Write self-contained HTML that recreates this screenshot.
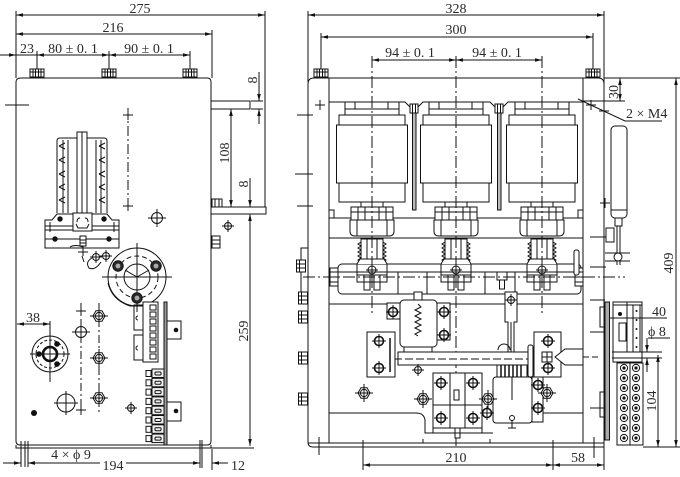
<!DOCTYPE html>
<html><head><meta charset="utf-8"><title>drawing</title>
<style>
html,body{margin:0;padding:0;background:#fff;width:680px;height:477px;overflow:hidden}
svg{display:block}
text{font-family:"Liberation Serif","DejaVu Serif",serif;font-size:14px;fill:#2a2a2a;stroke:none}
</style></head><body>
<svg width="680" height="477" viewBox="0 0 680 477" xmlns="http://www.w3.org/2000/svg" xmlns:xlink="http://www.w3.org/1999/xlink">
<defs>
<marker id="a" markerWidth="7" markerHeight="4" refX="7" refY="2" orient="auto-start-reverse" markerUnits="userSpaceOnUse"><path d="M0,0.2L7,2L0,3.8Z" fill="#111" stroke="none"/></marker>
<g id="hex"><polygon points="6,0 3,5.2 -3,5.2 -6,0 -3,-5.2 3,-5.2" fill="#fff"/><circle r="3.6"/><path d="M-9,0H9M0,-9V9"/></g>
<g id="cc"><circle r="5.5" fill="#fff"/><path d="M-9,0H9M0,-9V9"/></g>
<g id="cs"><circle r="3.5" fill="#fff"/><path d="M-6,0H6M0,-6V6"/></g>
<g id="bc"><circle r="4.5" fill="#fff" stroke-width="1.6"/><path d="M-7,0H7M0,-7V7"/></g>
<g id="bolt"><circle r="5.2" fill="#2a2a2a"/><circle r="2.4" fill="#aaa" stroke="none"/></g>
<g id="nut"><rect x="-7" y="-4" width="14" height="8" fill="#fff"/><path d="M-4,-4V4M-1.5,-4V4M1.5,-4V4M4,-4V4M-7,-1H7"/></g>
<g id="cr"><path d="M-5,0H5M0,-5V5"/></g>
<g id="sn"><rect x="-4.5" y="-6" width="9" height="12" fill="#fff"/><path d="M-4.5,-2H4.5M-4.5,2H4.5M-1.5,-6V6"/></g>
<g id="cyl">
<rect x="-27" y="102" width="54" height="7" fill="#fff"/>
<path d="M-17,102V109M16,102V109"/>
<rect x="-27" y="109" width="54" height="6" fill="#fff"/>
<rect x="-33" y="115" width="66" height="10" fill="#fff"/>
<rect x="-35.5" y="125" width="71" height="58" fill="#fff"/>
<rect x="-33" y="183" width="66" height="19" fill="#fff"/>
<rect x="-11" y="202" width="22" height="5" fill="#fff"/>
<rect x="-21" y="207" width="42" height="13" fill="#fff"/>
<path d="M-14,207V220M-7,207V220M7,207V220M14,207V220M-21,212H21"/>
<path d="M-22,220H22V231Q22,236 17,236H-17Q-22,236 -22,231Z" fill="#fff"/>
<path d="M-15,220V236M15,220V236"/>
<rect x="-11" y="239" width="22" height="21" fill="#fff"/>
<path d="M-5,239V260M5,239V260"/>
<path d="M-11,242l-3,2 3,2 -3,2 3,2 -3,2 3,2 -3,2 3,2 -3,2 3,2 M11,242l3,2 -3,2 3,2 -3,2 3,2 -3,2 3,2 -3,2 3,2 -3,2"/>
<path d="M-15,264L-12,259H12L15,264" fill="#fff"/>
<path d="M-15,264V282M15,264V282"/>
<circle cy="270" r="4"/><path d="M-6,270H6M0,264V276"/>
<path d="M-15,275H15V282H-15Z M-8,275V282M-2,275V282M2,275V282M8,275V282"/>
<path d="M-8,282V290H-2V282M2,282V290H8V282"/>
</g>
</defs>

<g fill="none" stroke="#111" stroke-width="1">

<!-- ================= LEFT VIEW ================= -->
<path d="M16,11V78 M265,11V207 M212,30V78"/>
<line x1="16" y1="15" x2="265" y2="15" marker-start="url(#a)" marker-end="url(#a)"/>
<line x1="16" y1="34" x2="212" y2="34" marker-start="url(#a)" marker-end="url(#a)"/>
<line x1="0" y1="55" x2="16" y2="55" marker-end="url(#a)"/>
<line x1="16" y1="55" x2="37" y2="55"/>
<line x1="37" y1="55" x2="109" y2="55" marker-start="url(#a)" marker-end="url(#a)"/>
<line x1="109" y1="55" x2="190" y2="55" marker-start="url(#a)" marker-end="url(#a)"/>
<path d="M37,51V78 M109,51V78 M190,51V78"/>
<use href="#nut" x="37" y="73"/>
<use href="#nut" x="109" y="73"/>
<use href="#nut" x="190" y="73"/>

<path d="M16,82Q16,78 21,78H207Q211,78 211,82V441Q211,445 207,445H20Q16,445 16,441Z"/>
<path d="M16,445V448H211V445"/>
<rect x="211" y="101" width="39" height="8"/>
<rect x="211" y="207" width="55" height="7"/>
<rect x="212" y="199" width="10" height="8" fill="#fff"/>
<path d="M215,199V207M219,199V207"/>
<use href="#cs" x="228" y="226"/>
<rect x="212" y="236" width="8" height="12" fill="#fff"/>
<path d="M212,240H220M212,244H220"/>

<path d="M251,101H263 M251,109H263"/>
<line x1="259" y1="72" x2="259" y2="101" marker-end="url(#a)"/>
<line x1="259" y1="124" x2="259" y2="109" marker-end="url(#a)"/>
<line x1="231" y1="109" x2="231" y2="207" marker-start="url(#a)" marker-end="url(#a)"/>
<line x1="250" y1="178" x2="250" y2="207" marker-end="url(#a)"/>
<line x1="250" y1="214" x2="250" y2="446" marker-start="url(#a)" marker-end="url(#a)"/>
<path d="M211,448H254"/>

<path d="M5,105H29"/>
<path d="M128,108V206" stroke-dasharray="10,3,2,3"/>
<use href="#cr" x="128" y="115"/>
<use href="#cr" x="128" y="206"/>
<use href="#cc" x="157" y="218"/>

<path d="M57,213V141Q57,138 60,138H104Q107,138 107,141V213" fill="#fff"/>
<path d="M63,140V213 M68,140V213 M96,140V213 M101,140V213"/>
<path d="M59,146l6,-3M59,146l6,3M59,160l6,-3M59,160l6,3M59,174l6,-3M59,174l6,3M59,187l6,-3M59,187l6,3M59,200l6,-3M59,200l6,3"/>
<path d="M99,146l6,-3M99,146l6,3M99,160l6,-3M99,160l6,3M99,174l6,-3M99,174l6,3M99,187l6,-3M99,187l6,3M99,200l6,-3M99,200l6,3"/>
<rect x="77" y="132" width="10" height="81" fill="#fff"/>
<path d="M82,132V213"/>
<path d="M45,248V220H52L57,214H107L112,220H119V248Z" fill="#fff"/>
<path d="M45,226H119 M45,230H119 M50,222V232 M114,222V232 M45,239H119"/>
<rect x="73" y="213" width="19" height="18" fill="#fff"/>
<path d="M77,222Q77,218 80,218 M88,222Q88,218 85,218 M76,224L78,228H87L89,224"/>
<g fill="#111" stroke="none">
<circle cx="60" cy="219" r="2.7"/><circle cx="104" cy="219" r="2.7"/>
<circle cx="55" cy="239" r="2.7"/><circle cx="109" cy="239" r="2.7"/>
</g>
<rect x="80" y="236" width="6" height="10" fill="#fff"/>
<path d="M80,240H86M80,243H86"/>
<path d="M83,246V256 M70,247Q75,244 83,247 M78,252H88 M82,256L84,262"/>
<path d="M92,258Q85,262 89,268Q95,271 101,262"/>
<use href="#cs" x="96" y="257"/>
<use href="#cs" x="106" y="256"/>

<circle cx="137" cy="277" r="29"/>
<circle cx="137" cy="277" r="21" stroke-dasharray="5,3"/>
<circle cx="137" cy="277" r="13"/>
<path d="M102,277H172 M137,243V312"/>
<path d="M137,277L125,270 M137,277L149,270 M137,277V290"/>
<path d="M108,283Q112,300 130,306H150"/>
<use href="#bolt" x="118" y="266"/>
<use href="#bolt" x="156" y="266"/>
<use href="#bolt" x="137" y="298"/>

<path d="M144,305H134V330H144 M144,335H134V360H144"/>
<path d="M138,316a2,2 0 0,0 0,4 M138,346a2,2 0 0,0 0,4"/>
<rect x="143" y="302" width="15" height="60" fill="#fff"/>
<rect x="150" y="305" width="6" height="5"/><rect x="150" y="312" width="6" height="5"/>
<rect x="150" y="319" width="6" height="5"/><rect x="150" y="326" width="6" height="5"/>
<rect x="150" y="333" width="6" height="5"/><rect x="150" y="340" width="6" height="5"/>
<rect x="150" y="347" width="6" height="5"/><rect x="150" y="354" width="6" height="5"/>
<rect x="164" y="302" width="3" height="143" fill="#9a9a9a"/>
<rect x="167" y="321" width="14" height="18"/>
<rect x="167" y="402" width="14" height="19"/>
<circle cx="176" cy="330" r="2.3" fill="#111" stroke="none"/>
<circle cx="176" cy="411" r="2.3" fill="#111" stroke="none"/>
<g>
<rect x="146" y="370.5" width="5" height="6"/><rect x="152" y="369" width="12" height="8.5" fill="#eee"/><rect x="155" y="372" width="6" height="3" rx="1"/>
<rect x="146" y="379.8" width="5" height="6"/><rect x="152" y="378.3" width="12" height="8.5" fill="#eee"/><rect x="155" y="381.3" width="6" height="3" rx="1"/>
<rect x="146" y="389.1" width="5" height="6"/><rect x="152" y="387.6" width="12" height="8.5" fill="#eee"/><rect x="155" y="390.6" width="6" height="3" rx="1"/>
<rect x="146" y="398.4" width="5" height="6"/><rect x="152" y="396.9" width="12" height="8.5" fill="#eee"/><rect x="155" y="399.9" width="6" height="3" rx="1"/>
<rect x="146" y="407.7" width="5" height="6"/><rect x="152" y="406.2" width="12" height="8.5" fill="#eee"/><rect x="155" y="409.2" width="6" height="3" rx="1"/>
<rect x="146" y="417" width="5" height="6"/><rect x="152" y="415.5" width="12" height="8.5" fill="#eee"/><rect x="155" y="418.5" width="6" height="3" rx="1"/>
<rect x="146" y="426.3" width="5" height="6"/><rect x="152" y="424.8" width="12" height="8.5" fill="#eee"/><rect x="155" y="427.8" width="6" height="3" rx="1"/>
<rect x="146" y="435.6" width="5" height="6"/><rect x="152" y="434.1" width="12" height="8.5" fill="#eee"/><rect x="155" y="437.1" width="6" height="3" rx="1"/>
</g>

<path d="M81,303V415 M99,303V412" stroke-dasharray="8,3,2,3"/>
<use href="#hex" x="99" y="316"/>
<use href="#hex" x="99" y="358"/>
<use href="#hex" x="99" y="398"/>
<use href="#cc" x="81" y="332"/>
<use href="#cr" x="81" y="311"/>
<use href="#cr" x="81" y="410"/>
<circle cx="66" cy="403" r="9"/><path d="M54,403H78 M66,391V415"/>
<use href="#cs" x="131" y="408"/>
<circle cx="34" cy="413" r="3" fill="#111" stroke="none"/>

<circle cx="50" cy="354" r="18"/>
<circle cx="50" cy="354" r="14" stroke-dasharray="3,2"/>
<circle cx="50" cy="354" r="7" stroke-width="2.6"/>
<path d="M30,354H70 M50,321V382"/>
<g fill="#111" stroke="none">
<circle cx="57" cy="344" r="2.8"/><circle cx="39" cy="354" r="2.8"/><circle cx="57" cy="364" r="2.8"/>
</g>
<line x1="17" y1="324" x2="50" y2="324" marker-start="url(#a)" marker-end="url(#a)"/>

<path d="M21,441V467 M25,441V467 M28,441V467 M200,440V468 M202,440V468 M212,449V470"/>
<line x1="3" y1="463" x2="21" y2="463" marker-end="url(#a)"/>
<line x1="40" y1="463" x2="28" y2="463" marker-end="url(#a)"/>
<line x1="28" y1="463" x2="93" y2="463"/>
<line x1="28" y1="463" x2="100" y2="463" marker-start="url(#a)"/>
<line x1="126" y1="463" x2="200" y2="463" marker-end="url(#a)"/>
<line x1="228" y1="463" x2="212" y2="463" marker-end="url(#a)"/>

<!-- ================= RIGHT VIEW ================= -->
<path d="M308,11V82 M604,11V84 M321,33V69 M593,33V69"/>
<line x1="308" y1="15" x2="604" y2="15" marker-start="url(#a)" marker-end="url(#a)"/>
<line x1="321" y1="37" x2="593" y2="37" marker-start="url(#a)" marker-end="url(#a)"/>
<line x1="372" y1="60" x2="456" y2="60" marker-start="url(#a)" marker-end="url(#a)"/>
<line x1="456" y1="60" x2="542" y2="60" marker-start="url(#a)" marker-end="url(#a)"/>
<use href="#nut" x="321" y="73"/>
<use href="#nut" x="593" y="73"/>

<path d="M308,84Q308,78 314,78H598Q604,78 604,84V447H313Q308,447 308,442Z"/>
<path d="M308,443H604"/>
<path d="M329,78V443 M583,78V443"/>
<path d="M329,102H405L410,107H418L423,102H490L495,107H503L508,102H583"/>
<rect x="412.5" y="108" width="3.5" height="102" fill="#bbb"/>
<rect x="497.5" y="108" width="3.5" height="102" fill="#bbb"/>
<rect x="410" y="104" width="8" height="9" fill="#fff"/><path d="M412.5,104V113M415.5,104V113"/>
<rect x="495" y="104" width="8" height="9" fill="#fff"/><path d="M497.5,104V113M500.5,104V113"/>
<path d="M329,218H583 M329,238H583"/>
<path d="M329,210H334V218 M583,210H578V218"/>
<rect x="338" y="264" width="243" height="30" rx="4" fill="#fff"/>
<path d="M338,272H581 M398,272V294 M427,272V294 M485,272V294 M515,272V294"/>
<rect x="330" y="268" width="8" height="18" fill="#fff"/><path d="M330,272H338M330,277H338M330,282H338"/>
<rect x="575" y="268" width="8" height="18" fill="#fff"/><path d="M575,272H583M575,277H583M575,282H583"/>
<rect x="497" y="272" width="10" height="8" fill="#fff"/>
<rect x="499.5" y="280" width="5" height="9" fill="#fff"/>
<path d="M329,304H583"/>

<use href="#cyl" x="372" y="0"/>
<use href="#cyl" x="456" y="0"/>
<use href="#cyl" x="542" y="0"/>

<path d="M372,56V313 M542,56V313" stroke-dasharray="12,3,2,3"/>
<path d="M456,56V446" stroke-dasharray="12,3,2,3"/>
<path d="M303,277H625" stroke-dasharray="12,3,2,3"/>

<path d="M297,115H313 M295,174H313 M297,206H313"/>
<use href="#cr" x="320" y="105"/>
<rect x="301" y="248" width="7" height="52"/>
<use href="#sn" x="301" y="266"/>
<use href="#sn" x="303" y="298"/>
<use href="#sn" x="303" y="317"/>
<use href="#sn" x="303" y="358"/>
<use href="#sn" x="303" y="399"/>

<path d="M505,292H517V322H514V352H508V322H505Z" fill="#fff"/>
<use href="#cs" x="511" y="300"/>
<path d="M498,350A6,6 0 0,1 510,350"/>
<path d="M511,322V352"/>

<rect x="387" y="303" width="13" height="16" fill="#fff"/>
<rect x="437" y="303" width="13" height="37" fill="#fff"/>
<rect x="400" y="300" width="37" height="47" rx="4" fill="#fff"/>
<path d="M418,304l3,3 -6,3 6,3 -6,3 6,3 -6,3 6,3 -6,3 6,3 -6,3 3,2"/>
<rect x="414" y="292" width="8" height="8" fill="#fff"/>
<use href="#bc" x="393" y="312"/>
<use href="#bc" x="444" y="312"/>
<use href="#bc" x="444" y="335"/>
<rect x="404" y="347" width="28" height="5" fill="#fff"/>
<rect x="398" y="352" width="132" height="13" fill="#fff"/>
<path d="M383,359H537" stroke-dasharray="8,3"/>
<use href="#cs" x="418" y="370"/>
<rect x="367" y="332" width="28" height="45" fill="#fff"/>
<path d="M390,338V372" stroke-width="1.5"/>
<use href="#bc" x="379" y="341"/>
<use href="#bc" x="379" y="368"/>
<rect x="534" y="332" width="27" height="45" fill="#fff"/>
<use href="#bc" x="548" y="341"/>
<use href="#bc" x="548" y="368"/>
<rect x="528" y="345" width="5" height="32" rx="2" fill="#fff"/>
<rect x="542" y="352" width="10" height="10" fill="#fff"/><path d="M542,357H552M547,352V362"/>
<path d="M555,357L565,349H583V365H565Z" fill="#fff"/>
<path d="M583,357H600" stroke-dasharray="6,3"/>

<rect x="433" y="373" width="49" height="60" fill="#fff"/>
<path d="M450,373V428 M465,373V428 M433,405H482 M433,428H482"/>
<rect x="454" y="390" width="5" height="10"/>
<rect x="455" y="428" width="5" height="10" fill="#fff"/>
<use href="#bc" x="441" y="383"/>
<use href="#bc" x="441" y="418"/>
<use href="#bc" x="473" y="383"/>
<use href="#bc" x="473" y="418"/>
<rect x="497" y="365" width="30" height="12" fill="#fff"/>
<path d="M501,365V377M505,365V377M509,365V377M513,365V377M517,365V377M521,365V377" stroke-width="1.5"/>
<rect x="493" y="377" width="39" height="46" rx="3" fill="#fff"/>
<rect x="532" y="377" width="11" height="45" fill="#fff"/>
<use href="#bc" x="538" y="385"/>
<use href="#bc" x="538" y="408"/>
<use href="#hex" x="547" y="393"/>
<path d="M512,377V400"/>
<circle cx="512" cy="418" r="2.5"/><path d="M512,420V428M508,428H516"/>
<use href="#bc" x="487" y="413"/>
<use href="#hex" x="364" y="393"/>
<use href="#hex" x="423" y="399"/>
<use href="#hex" x="488" y="399"/>
<path d="M329,413H416Q424,413 425,420V433H493 M543,413H583"/>
<path d="M423,443V439 M490,443V439"/>

<rect x="611" y="126" width="16" height="92" rx="4" fill="#fff"/>
<path d="M611,210H627"/>
<use href="#cr" x="605" y="203"/>
<rect x="615" y="218" width="7" height="8" fill="#fff"/>
<path d="M617,226V265 M620,226V265"/>
<rect x="606" y="228" width="8" height="14" fill="#fff"/>
<path d="M605,253H630 M605,261H630"/>
<circle cx="618" cy="257" r="4" fill="#fff"/>
<path d="M590,237H606 M590,267H606"/>
<rect x="574" y="250" width="5" height="25" rx="2" fill="#fff"/>
<path d="M590,300H605 M590,332H605 M590,408H605"/>
<rect x="605" y="302" width="4.5" height="138" fill="#aaa"/>
<rect x="600" y="307" width="5" height="20"/>
<rect x="600" y="392" width="5" height="25"/>
<rect x="613" y="302" width="29" height="60" fill="#fff"/>
<path d="M627,302V352 M613,305H642 M613,352H642 M633,305V352 M640,305V352"/>
<circle cx="620" cy="314" r="2" fill="#111" stroke="none"/>
<rect x="619" y="323" width="7" height="18"/>
<g fill="#111" stroke="none">
<circle cx="636.5" cy="311" r="1"/><circle cx="636.5" cy="320" r="1"/><circle cx="636.5" cy="329" r="1"/><circle cx="636.5" cy="338" r="1"/><circle cx="636.5" cy="347" r="1"/>
</g>
<rect x="617" y="363" width="26" height="82" fill="#fff"/>
<path d="M630,363V445"/>
<g>
<circle cx="624" cy="368" r="3.6"/><circle cx="636" cy="368" r="3.6"/>
<circle cx="624" cy="378" r="3.6"/><circle cx="636" cy="378" r="3.6"/>
<circle cx="624" cy="388" r="3.6"/><circle cx="636" cy="388" r="3.6"/>
<circle cx="624" cy="398" r="3.6"/><circle cx="636" cy="398" r="3.6"/>
<circle cx="624" cy="408" r="3.6"/><circle cx="636" cy="408" r="3.6"/>
<circle cx="624" cy="418" r="3.6"/><circle cx="636" cy="418" r="3.6"/>
<circle cx="624" cy="428" r="3.6"/><circle cx="636" cy="428" r="3.6"/>
<circle cx="624" cy="438" r="3.6"/><circle cx="636" cy="438" r="3.6"/>
</g>
<g fill="#111" stroke="none">
<circle cx="624" cy="368" r="1.6"/><circle cx="636" cy="368" r="1.6"/>
<circle cx="624" cy="378" r="1.6"/><circle cx="636" cy="378" r="1.6"/>
<circle cx="624" cy="388" r="1.6"/><circle cx="636" cy="388" r="1.6"/>
<circle cx="624" cy="398" r="1.6"/><circle cx="636" cy="398" r="1.6"/>
<circle cx="624" cy="408" r="1.6"/><circle cx="636" cy="408" r="1.6"/>
<circle cx="624" cy="418" r="1.6"/><circle cx="636" cy="418" r="1.6"/>
<circle cx="624" cy="428" r="1.6"/><circle cx="636" cy="428" r="1.6"/>
<circle cx="624" cy="438" r="1.6"/><circle cx="636" cy="438" r="1.6"/>
</g>

<path d="M604,78H680 M643,447H680"/>
<line x1="676" y1="78" x2="676" y2="447" marker-start="url(#a)" marker-end="url(#a)"/>
<path d="M583,101H625"/>
<line x1="620" y1="78" x2="620" y2="101" marker-start="url(#a)" marker-end="url(#a)"/>
<path d="M578,99L625,121H662"/>
<use href="#cr" x="591" y="105"/>
<use href="#cr" x="604" y="111"/>
<path d="M610,318H667"/>
<path d="M648,338H670 M612,352H662 M612,358H662"/>
<line x1="647" y1="338" x2="647" y2="352" marker-end="url(#a)"/>
<line x1="647" y1="372" x2="647" y2="358" marker-end="url(#a)"/>
<line x1="658" y1="355" x2="658" y2="447" marker-start="url(#a)" marker-end="url(#a)"/>

<path d="M363,440V470 M553,440V470 M594,437V458 M604,447V470 M319,437V455"/>
<line x1="363" y1="465" x2="553" y2="465" marker-start="url(#a)" marker-end="url(#a)"/>
<line x1="553" y1="465" x2="604" y2="465" marker-start="url(#a)" marker-end="url(#a)"/>
</g>

<text x="140" y="13" text-anchor="middle">275</text>
<text x="113" y="32" text-anchor="middle">216</text>
<text x="27" y="53" text-anchor="middle">23</text>
<text x="73" y="53" text-anchor="middle">80 ± 0. 1</text>
<text x="149" y="53" text-anchor="middle">90 ± 0. 1</text>
<text transform="translate(257,80) rotate(-90)" text-anchor="middle">8</text>
<text transform="translate(229,153) rotate(-90)" text-anchor="middle">108</text>
<text transform="translate(248,184) rotate(-90)" text-anchor="middle">8</text>
<text transform="translate(248,331) rotate(-90)" text-anchor="middle">259</text>
<text x="33" y="322" text-anchor="middle">38</text>
<text x="71" y="459" text-anchor="middle">4 × ϕ 9</text>
<text x="113" y="470" text-anchor="middle">194</text>
<text x="238" y="470" text-anchor="middle">12</text>

<text x="456" y="13" text-anchor="middle">328</text>
<text x="456" y="34" text-anchor="middle">300</text>
<text x="410" y="57" text-anchor="middle">94 ± 0. 1</text>
<text x="497" y="57" text-anchor="middle">94 ± 0. 1</text>
<text transform="translate(618,92) rotate(-90)" text-anchor="middle">30</text>
<text x="626" y="118">2 × M4</text>
<text transform="translate(673,263) rotate(-90)" text-anchor="middle">409</text>
<text x="652" y="316">40</text>
<text x="648" y="336">ϕ 8</text>
<text transform="translate(656,401) rotate(-90)" text-anchor="middle">104</text>
<text x="456" y="462" text-anchor="middle">210</text>
<text x="578" y="462" text-anchor="middle">58</text>
</svg>
</body></html>
